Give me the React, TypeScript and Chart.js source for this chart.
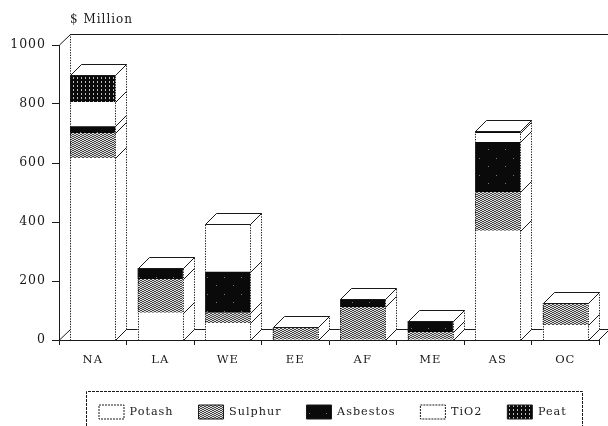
import React, { useEffect, useRef } from "react";
import { Chart, registerables } from "chart.js";

Chart.register(...registerables);

const categories = ["NA", "LA", "WE", "EE", "AF", "ME", "AS", "OC"];
const potash = [617, 92, 58, 0, 0, 0, 370, 51];
const sulphur = [85, 115, 34, 44, 112, 27, 132, 74];
const asbestos = [23, 37, 139, 0, 27, 37, 169, 0];
const tio2 = [82, 0, 162, 0, 0, 0, 31, 0];
const peat = [91, 0, 0, 0, 0, 0, 6, 0];
const yTitle = "$ Million";

const INK = "#1a1a1a";
const FONT = "'DejaVu Serif'";
const DX = 11;
const DY = 11;
const DOT: [number, number] = [1.3, 1.3];

function tile(w: number, h: number, paint: (c: CanvasRenderingContext2D) => void) {
  const cv = document.createElement("canvas");
  cv.width = w;
  cv.height = h;
  const c = cv.getContext("2d")!;
  paint(c);
  return c.createPattern(cv, "repeat")!;
}

function makePatterns() {
  const sulphurP = tile(4, 4, (c) => {
    c.fillStyle = "#e0e0e0";
    c.fillRect(0, 0, 4, 4);
    c.fillStyle = "#444444";
    [[0, 0], [1, 0], [2, 1], [3, 1], [0, 2], [1, 2], [2, 3], [3, 3]].forEach(([x, y]) => c.fillRect(x, y, 1, 1));
  });
  const asbestosP = tile(17, 17, (c) => {
    c.fillStyle = "#0a0a0a";
    c.fillRect(0, 0, 17, 17);
    c.fillStyle = "#777777";
    c.fillRect(3, 5, 1, 1);
    c.fillRect(12, 13, 1, 1);
  });
  const peatP = tile(4, 4, (c) => {
    c.fillStyle = "#0a0a0a";
    c.fillRect(0, 0, 4, 4);
    c.fillStyle = "#bbbbbb";
    c.fillRect(1, 1, 1, 2);
  });
  return { sulphurP, asbestosP, peatP };
}

const spacing = {
  id: "spacing",
  beforeLayout(chart: any) {
    chart.ctx.letterSpacing = "1px";
  },
  afterLayout(chart: any) {
    chart.legend.left = 74;
  },
  beforeDraw(chart: any) {
    chart.ctx.letterSpacing = "1px";
  },
};

const cube = {
  id: "cube",
  beforeDatasetsDraw(chart: any) {
    const { ctx, chartArea: a } = chart;
    ctx.save();
    ctx.strokeStyle = INK;
    ctx.lineWidth = 1;
    ctx.setLineDash(DOT);
    ctx.beginPath();
    ctx.moveTo(a.left + DX + 0.5, a.bottom - DY);
    ctx.lineTo(a.left + DX + 0.5, a.top - DY);
    ctx.stroke();
    ctx.setLineDash([]);
    ctx.beginPath();
    ctx.moveTo(a.left + 0.5, a.top);
    ctx.lineTo(a.left + DX + 0.5, a.top - DY + 0.5);
    ctx.lineTo(chart.width, a.top - DY + 0.5);
    ctx.moveTo(a.left + 0.5, a.bottom);
    ctx.lineTo(a.left + DX + 0.5, a.bottom - DY + 0.5);
    ctx.lineTo(chart.width, a.bottom - DY + 0.5);
    ctx.moveTo(a.right, a.bottom);
    ctx.lineTo(a.right + DX, a.bottom - DY);
    ctx.stroke();
    ctx.restore();
  },
  afterDatasetsDraw(chart: any) {
    const { ctx } = chart;
    ctx.save();
    ctx.strokeStyle = INK;
    ctx.lineWidth = 1;
    categories.forEach((_, i) => {
      const parts = chart.data.datasets
        .map((_d: any, k: number) => chart.getDatasetMeta(k).data[i])
        .filter((el: any) => Math.abs(el.base - el.y) > 0.01);
      if (!parts.length) return;
      const first = parts[0];
      const last = parts[parts.length - 1];
      const l = Math.round(first.x - first.width / 2) + 0.5;
      const r = Math.round(first.x + first.width / 2) + 0.5;
      const b = Math.round(first.base) + 0.5;
      const t = Math.round(last.y) + 0.5;
      ctx.fillStyle = "#ffffff";
      ctx.beginPath();
      ctx.moveTo(r, b);
      ctx.lineTo(r + DX, b - DY);
      ctx.lineTo(r + DX, t - DY);
      ctx.lineTo(l + DX, t - DY);
      ctx.lineTo(l, t);
      ctx.lineTo(r, t);
      ctx.closePath();
      ctx.fill();
      ctx.setLineDash(DOT);
      ctx.beginPath();
      ctx.moveTo(l, b);
      ctx.lineTo(l, t);
      ctx.moveTo(r, b);
      ctx.lineTo(r, t);
      ctx.moveTo(r + DX, b - DY);
      ctx.lineTo(r + DX, t - DY);
      ctx.stroke();
      ctx.setLineDash([]);
      ctx.beginPath();
      ctx.moveTo(r, b);
      ctx.lineTo(r + DX, b - DY);
      ctx.moveTo(l, t);
      ctx.lineTo(l + DX, t - DY);
      ctx.lineTo(r + DX, t - DY);
      ctx.lineTo(r, t);
      ctx.lineTo(l, t);
      parts.forEach((el: any) => {
        const y = Math.round(el.y) + 0.5;
        ctx.moveTo(r, y);
        ctx.lineTo(r + DX, y - DY);
      });
      ctx.stroke();
    });
    ctx.restore();
  },
  afterDraw(chart: any) {
    const { ctx } = chart;
    ctx.save();
    ctx.fillStyle = INK;
    ctx.font = `12px ${FONT}`;
    ctx.textBaseline = "middle";
    ctx.fillText(yTitle, 70, 20);
    ctx.strokeStyle = INK;
    ctx.lineWidth = 1;
    ctx.setLineDash([3, 1]);
    ctx.beginPath();
    ctx.moveTo(86.5, 426);
    ctx.lineTo(86.5, 391.5);
    ctx.lineTo(582.5, 391.5);
    ctx.lineTo(582.5, 426);
    ctx.stroke();
    ctx.restore();
  },
};

export default function App() {
  const ref = useRef<HTMLCanvasElement>(null);
  useEffect(() => {
    document.body.style.margin = "0";
    const { sulphurP, asbestosP, peatP } = makePatterns();
    const names = ["Potash", "Sulphur", "Asbestos", "TiO2", "Peat"];
    const values = [potash, sulphur, asbestos, tio2, peat];
    const fills: any[] = ["#ffffff", sulphurP, asbestosP, "#ffffff", peatP];
    const chart = new Chart(ref.current!, {
      type: "bar",
      data: {
        labels: categories,
        datasets: names.map((label, i) => ({
          label,
          data: values[i],
          backgroundColor: fills[i],
          borderWidth: 0,
          categoryPercentage: 1,
          barPercentage: 0.67,
        })),
      },
      plugins: [spacing, cube],
      options: {
        animation: false,
        responsive: false,
        devicePixelRatio: 1,
        layout: { padding: { top: 45, right: 9, bottom: -3, left: 0 } },
        plugins: {
          title: { display: false },
          tooltip: { enabled: false },
          legend: {
            position: "bottom",
            align: "start",
            onClick: undefined,
            labels: {
              boxWidth: 25,
              boxHeight: 14,
              padding: 25,
              color: INK,
              font: { family: FONT, size: 11.2 },
              generateLabels: () =>
                names.map((text, i) => ({
                  text,
                  fillStyle: fills[i],
                  strokeStyle: INK,
                  lineWidth: 1,
                  lineDash: fills[i] === "#ffffff" ? [2, 1] : [],
                  fontColor: INK,
                  datasetIndex: i,
                })),
            },
          },
        },
        scales: {
          x: {
            stacked: true,
            afterFit: (s: any) => {
              s.height = 40;
            },
            grid: { drawOnChartArea: false, color: INK, tickLength: 5 },
            border: { color: INK, width: 1 },
            ticks: { color: INK, font: { family: FONT, size: 11.5 }, padding: 8, maxRotation: 0 },
          },
          y: {
            stacked: true,
            min: 0,
            max: 1000,
            afterFit: (s: any) => {
              s.width = 59;
            },
            grid: { drawOnChartArea: false, color: INK, tickLength: 7 },
            border: { color: INK, width: 1, dash: [1.3, 1.3] },
            ticks: {
              stepSize: 200,
              color: INK,
              font: { family: FONT, size: 12.5 },
              padding: 6,
              callback: (v: any) => String(v),
            },
          },
        },
      },
    } as any);
    return () => chart.destroy();
  }, []);
  return <canvas ref={ref} width={608} height={426} style={{ display: "block" }} />;
}
